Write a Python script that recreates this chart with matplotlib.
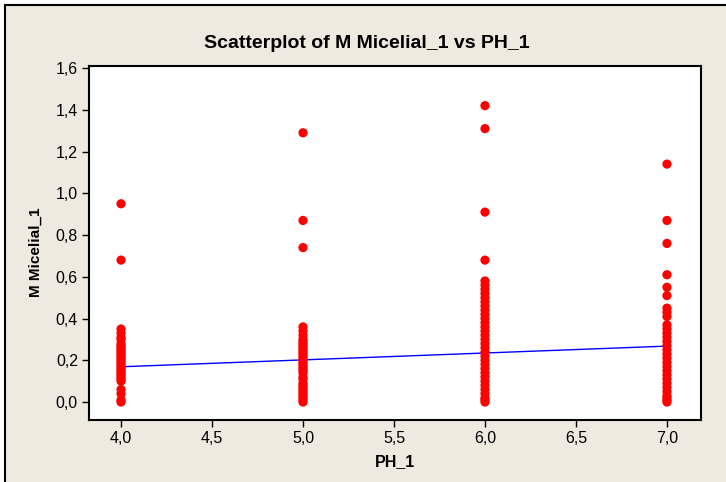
import matplotlib
matplotlib.use("Agg")
import matplotlib.pyplot as plt
from matplotlib.ticker import FuncFormatter
from matplotlib.patches import Rectangle
from matplotlib.lines import Line2D

plt.rcParams['font.family'] = ['Liberation Sans', 'DejaVu Sans']

# Data
ph_levels = [4.0, 5.0, 6.0, 7.0]
micelial_ph4 = [0.95, 0.68, 0.35, 0.33, 0.31, 0.30, 0.28, 0.27, 0.26, 0.25, 0.24, 0.23,
                0.22, 0.21, 0.20, 0.19, 0.18, 0.17, 0.16, 0.15, 0.14, 0.13, 0.12, 0.11,
                0.10, 0.06, 0.04, 0.01, 0.0]
micelial_ph5 = [1.29, 0.87, 0.74, 0.36, 0.34, 0.32, 0.30, 0.29, 0.28, 0.27, 0.26, 0.25,
                0.24, 0.23, 0.22, 0.21, 0.20, 0.19, 0.18, 0.17, 0.16, 0.15, 0.14, 0.12,
                0.11, 0.09, 0.08, 0.07, 0.06, 0.05, 0.04, 0.03, 0.02, 0.01, 0.0]
micelial_ph6 = [1.42, 1.31, 0.91, 0.68, 0.58, 0.56, 0.54, 0.52, 0.50, 0.48, 0.46, 0.44,
                0.42, 0.40, 0.38, 0.36, 0.34, 0.32, 0.30, 0.28, 0.26, 0.24, 0.22, 0.20,
                0.18, 0.16, 0.14, 0.12, 0.10, 0.08, 0.06, 0.04, 0.02, 0.01, 0.0]
micelial_ph7 = [1.14, 0.87, 0.76, 0.61, 0.55, 0.51, 0.45, 0.43, 0.41, 0.37, 0.35, 0.33,
                0.31, 0.29, 0.27, 0.25, 0.23, 0.21, 0.19, 0.17, 0.15, 0.13, 0.11, 0.09,
                0.07, 0.05, 0.03, 0.02, 0.01, 0.0]
fit_x = [4.0, 7.0]
fit_y = [0.169, 0.268]

x_ticks = [4.0, 4.5, 5.0, 5.5, 6.0, 6.5, 7.0]
y_ticks = [0.0, 0.2, 0.4, 0.6, 0.8, 1.0, 1.2, 1.4, 1.6]

W, H = 726, 482
fig = plt.figure(figsize=(W / 100, H / 100), dpi=100)
fig.patch.set_facecolor('white')

bg = '#EEEAE0'
# beige panel with black top/left border
fig.patches.append(Rectangle((5 / W, 0), 1 - 5 / W, 1 - 5 / H, transform=fig.transFigure,
                             facecolor=bg, edgecolor='none', zorder=-10))
fig.lines.append(Line2D([5 / W, 1], [1 - 5 / H, 1 - 5 / H], transform=fig.transFigure,
                        color='black', lw=1.5, zorder=-5))
fig.lines.append(Line2D([5 / W, 5 / W], [0, 1 - 5 / H], transform=fig.transFigure,
                        color='black', lw=1.5, zorder=-5))

ax_l, ax_r, ax_t, ax_b = 89, 701, 66, 420
ax = fig.add_axes([ax_l / W, 1 - ax_b / H, (ax_r - ax_l) / W, (ax_b - ax_t) / H])
ax.set_zorder(1)
ax.set_facecolor('white')

groups = [micelial_ph4, micelial_ph5, micelial_ph6, micelial_ph7]
for xv, vals in zip(ph_levels, groups):
    ax.scatter([xv] * len(vals), vals, s=44, color='#FF0000', edgecolors='none', zorder=3)

ax.plot(fit_x, fit_y, color='#0000FF', lw=1.0, zorder=2)

ax.set_xlim(3.824, 7.187)
ax.set_ylim(-0.086, 1.61)
ax.set_xticks(x_ticks)
ax.set_yticks(y_ticks)
fmt = FuncFormatter(lambda v, p: f"{v:.1f}".replace('.', ','))
ax.xaxis.set_major_formatter(fmt)
ax.yaxis.set_major_formatter(fmt)
ax.tick_params(direction='out', length=5, width=1, labelsize=11.5, colors='black', pad=3)

for s in ax.spines.values():
    s.set_linewidth(1.5)
    s.set_color('black')

fig.text(367 / W, 1 - 43 / H, 'Scatterplot of M Micelial_1 vs PH_1', fontsize=14,
         fontweight='bold', ha='center', va='center')
ax.set_xlabel('PH_1', fontsize=11.5, fontweight='bold', labelpad=6)
ax.set_ylabel('M Micelial_1', fontsize=11, fontweight='bold')
ax.yaxis.set_label_coords(-0.075, 0.475)

fig.savefig('out.png', dpi=100, facecolor=fig.get_facecolor())
